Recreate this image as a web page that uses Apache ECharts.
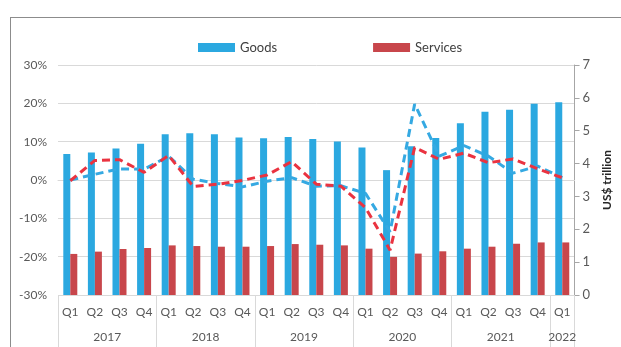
<!DOCTYPE html>
<html>
<head>
<meta charset="utf-8">
<script src="https://cdn.jsdelivr.net/npm/echarts@6/dist/echarts.min.js"></script>
<style>
  html, body { margin: 0; padding: 0; background: #ffffff; }
  #wrap { position: relative; width: 621px; height: 347px; overflow: hidden; }
  #chart { position: absolute; left: 0; top: 0; width: 621px; height: 347px; }
  #frame { position: absolute; left: 10px; top: 17px; width: 700px; height: 400px;
           border: 1.5px solid #8c8c8c; pointer-events: none; box-sizing: border-box; }
</style>
</head>
<body>
<div id="wrap">
  <div id="chart"></div>
  <div id="frame"></div>
</div>
<script>
// Quarterly world trade: value (US$ trillion) and year-on-year growth (%)
const quarters = ['Q1','Q2','Q3','Q4','Q1','Q2','Q3','Q4','Q1','Q2','Q3','Q4',
                  'Q1','Q2','Q3','Q4','Q1','Q2','Q3','Q4','Q1'];
const years = ['2017','2018','2019','2020','2021','2022'];
// quarters covered by each year label
const yearSpans = [4, 4, 4, 4, 4, 1];

const goodsValue = [4.29, 4.34, 4.46, 4.60, 4.89, 4.92, 4.89, 4.79, 4.77, 4.81, 4.75,
                    4.67, 4.49, 3.80, 4.53, 4.78, 5.23, 5.58, 5.64, 5.82, 5.87];
const servicesValue = [1.25, 1.32, 1.40, 1.43, 1.51, 1.49, 1.47, 1.47, 1.49, 1.55, 1.53,
                       1.51, 1.41, 1.16, 1.26, 1.33, 1.41, 1.47, 1.56, 1.60, 1.60];
const goodsGrowth = [0.0, 1.5, 2.9, 2.8, 6.2, 0.2, -0.9, -1.8, -0.3, 0.6, -1.6,
                     -1.5, -3.5, -13.5, 19.8, 6.2, 9.0, 6.2, 1.8, 3.6, 0.6];
const servicesGrowth = [-0.2, 5.1, 5.3, 2.0, 6.4, -1.7, -1.1, -0.1, 1.3, 4.8, -1.1,
                        -1.6, -7.2, -18.3, 8.5, 5.4, 7.0, 4.5, 5.5, 2.9, 0.6];

const pctTicks = { min: -30, max: 30, interval: 10 };
const valTicks = { min: 0, max: 7, interval: 1 };

// Year row: half-quarter slots so labels sit at group centres and
// separators at group boundaries.
const halfSlots = quarters.length * 2 + 1;
const yearSlotLabels = new Array(halfSlots).fill('');
const boundarySlots = new Set([0]);
let pos = 0;
years.forEach((y, i) => {
  yearSlotLabels[pos + yearSpans[i]] = y;   // centre in half-quarter units
  pos += yearSpans[i] * 2;
  boundarySlots.add(pos);
});

const GOODS = '#2ba8e0';
const SERV = '#c8464b';
const GOODS_LINE = '#35a9e2';
const SERV_LINE = '#ea3340';
const FONT = 'Lato';
const grey = '#595959';
const gridCol = '#d9d9d9';

const chart = echarts.init(document.getElementById('chart'), null, { renderer: 'canvas' });
chart.setOption({
  animation: false,
  backgroundColor: '#ffffff',
  textStyle: { fontFamily: FONT },
  legend: {
    data: ['Goods', 'Services'],
    left: 193, top: 36,
    icon: 'rect', itemWidth: 37, itemHeight: 9, itemGap: 96,
    textStyle: { fontSize: 13, color: '#404040', fontFamily: FONT }
  },
  grid: { left: 58, right: 45, top: 65, bottom: 52 },
  xAxis: [
    {
      type: 'category', data: quarters,
      axisLine: { show: true, lineStyle: { color: gridCol } },
      axisTick: { show: false },
      axisLabel: { color: grey, fontSize: 12, margin: 11, fontFamily: FONT }
    },
    {
      type: 'category', data: yearSlotLabels, boundaryGap: false, position: 'bottom',
      axisLine: { show: false },
      axisTick: {
        show: true, length: 53, lineStyle: { color: gridCol, width: 1 },
        interval: (i) => boundarySlots.has(i)
      },
      axisLabel: {
        color: grey, fontSize: 12, margin: 36, fontFamily: FONT,
        interval: (i) => yearSlotLabels[i] !== ''
      }
    }
  ],
  yAxis: [
    {
      type: 'value', position: 'left', ...pctTicks,
      axisLine: { show: false }, axisTick: { show: false },
      axisLabel: { formatter: '{value}%', color: grey, fontSize: 12, margin: 11, fontFamily: FONT },
      splitLine: { show: true, lineStyle: { color: gridCol, width: 1 } }
    },
    {
      type: 'value', position: 'right', ...valTicks,
      name: 'US$ trillion', nameLocation: 'middle', nameRotate: 90, nameGap: 26,
      nameTextStyle: { color: '#262626', fontSize: 12, fontWeight: 'bold', fontFamily: FONT },
      axisLine: { show: true, lineStyle: { color: '#a6a6a6' } },
      axisTick: { show: true, inside: false, length: 5, lineStyle: { color: '#a6a6a6' } },
      axisLabel: { color: grey, fontSize: 13, margin: 8, fontFamily: FONT },
      splitLine: { show: false }
    }
  ],
  series: [
    {
      name: 'Goods', type: 'bar', yAxisIndex: 1, data: goodsValue,
      barWidth: 7, barGap: '0%', itemStyle: { color: GOODS }, z: 2
    },
    {
      name: 'Services', type: 'bar', yAxisIndex: 1, data: servicesValue,
      barWidth: 7, barGap: '0%', itemStyle: { color: SERV }, z: 2
    },
    {
      name: 'Goods growth', type: 'line', yAxisIndex: 0, data: goodsGrowth,
      symbol: 'none', z: 5,
      lineStyle: { color: GOODS_LINE, width: 3, type: [8, 5] }
    },
    {
      name: 'Services growth', type: 'line', yAxisIndex: 0, data: servicesGrowth,
      symbol: 'none', z: 6,
      lineStyle: { color: SERV_LINE, width: 3, type: [8, 5] }
    }
  ]
});
</script>
</body>
</html>
